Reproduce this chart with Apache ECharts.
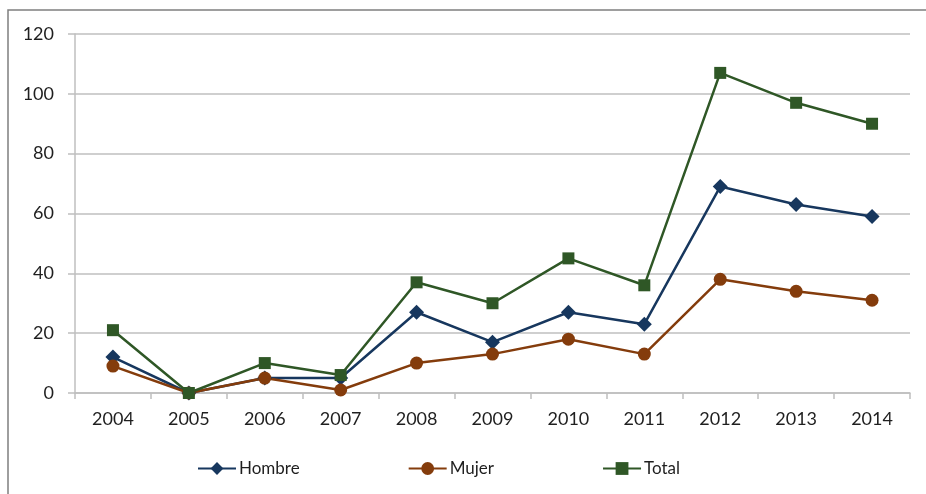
<!DOCTYPE html>
<html>
<head>
<meta charset="utf-8">
<script src="https://cdn.jsdelivr.net/npm/echarts@6/dist/echarts.min.js"></script>
<style>
  html, body { margin: 0; padding: 0; background: #fff; }
  #main { width: 926px; height: 494px; }
</style>
</head>
<body>
<div id="main"></div>
<script>
// datos
var years = ['2004', '2005', '2006', '2007', '2008', '2009', '2010', '2011', '2012', '2013', '2014']
var hombre = [12, 0, 5, 5, 27, 17, 27, 23, 69, 63, 59]
var mujer = [9, 0, 5, 1, 10, 13, 18, 13, 38, 34, 31]
var total = [21, 0, 10, 6, 37, 30, 45, 36, 107, 97, 90]

var fontFam = 'Lato, "Open Sans", sans-serif'
var gridColor = '#bfbfbf'
var txtColor = '#1f1f1f'

var chart = echarts.init(document.getElementById('main'))

function serie(name, data, color, symbol, size) {
  return {
    name: name,
    type: 'line',
    data: data,
    symbol: symbol,
    symbolSize: size,
    lineStyle: { color: color, width: 2.5 },
    itemStyle: { color: color },
    z: 3,
  }
}

chart.setOption({
  animation: false,
  backgroundColor: '#fff',
  textStyle: { fontFamily: fontFam },
  graphic: [
    {
      type: 'rect',
      shape: { x: 8, y: 10, width: 940, height: 500 },
      style: { fill: 'none', stroke: '#7f7f7f', lineWidth: 1.5 },
      z: -1,
    },
  ],
  grid: { left: 75, right: 16, top: 34, bottom: 101 },
  legend: {
    left: 192,
    top: 455,
    itemWidth: 38,
    itemHeight: 16,
    itemGap: 108,
    textStyle: { fontSize: 17, color: txtColor, fontFamily: fontFam, padding: [0, 0, 0, -2] },
    data: ['Hombre', 'Mujer', 'Total'],
  },
  xAxis: {
    type: 'category',
    data: years,
    axisLine: { lineStyle: { color: gridColor, width: 1.5 } },
    axisTick: { show: true, length: 6, lineStyle: { color: gridColor, width: 1.5 } },
    axisLabel: { fontSize: 18, color: txtColor, margin: 17 },
  },
  yAxis: {
    type: 'value',
    min: 0,
    max: 120,
    interval: 20,
    axisLine: { show: true, lineStyle: { color: gridColor, width: 1.5 } },
    axisTick: { show: true, length: 7, lineStyle: { color: gridColor, width: 1.5 } },
    axisLabel: { fontSize: 18, color: txtColor, margin: 21 },
    splitLine: { lineStyle: { color: gridColor, width: 1.5 } },
  },
  series: [
    serie('Hombre', hombre, '#17375e', 'diamond', 15),
    serie('Mujer', mujer, '#843c0c', 'circle', 13),
    serie('Total', total, '#2f5726', 'rect', 12),
  ],
})
</script>
</body>
</html>
